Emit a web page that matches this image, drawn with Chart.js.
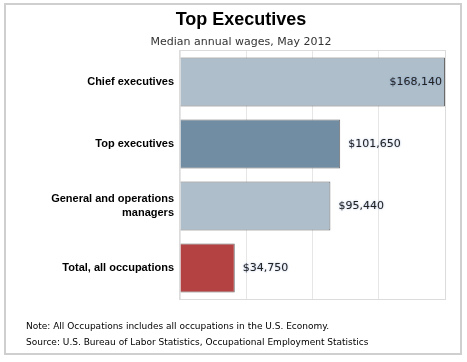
<!DOCTYPE html>
<html>
<head>
<meta charset="utf-8">
<script src="https://cdn.jsdelivr.net/npm/chart.js@4.4.0/dist/chart.umd.min.js"></script>
<style>
  html, body { margin: 0; padding: 0; background: #fff; }
  #wrap { position: relative; width: 467px; height: 362px; }
</style>
</head>
<body>
<div id="wrap"><canvas id="wages" width="467" height="362"></canvas></div>
<script>
// chart data
const categories = ['Chief executives', 'Top executives', ['General and operations', 'managers'], 'Total, all occupations'];
const wages = [168140, 101650, 95440, 34750];
const barColors = ['#aebfcb', '#718da3', '#aebfcb', '#b54242'];
const titleText = 'Top Executives';
const subtitleText = 'Median annual wages, May 2012';
const footnotes = [
    'Note: All Occupations includes all occupations in the U.S. Economy.',
    'Source: U.S. Bureau of Labor Statistics, Occupational Employment Statistics'
];

const fmtMoney = v => '$' + v.toLocaleString('en-US');

// frame, titles, footnotes and plot border
const decorPlugin = {
    id: 'decor',
    beforeDraw(chart) {
        const ctx = chart.ctx;
        ctx.save();
        ctx.strokeStyle = '#cfcfcf';
        ctx.lineWidth = 2;
        ctx.strokeRect(5, 4, 456, 350);
        ctx.fillStyle = '#000';
        ctx.textAlign = 'center';
        ctx.textBaseline = 'middle';
        ctx.font = 'bold 18px "Liberation Sans", Arial, sans-serif';
        ctx.fillText(titleText, 241, 20);
        ctx.fillStyle = '#333';
        ctx.font = '11px "DejaVu Sans", Verdana, sans-serif';
        ctx.fillText(subtitleText, 241, 42);
        ctx.textAlign = 'left';
        ctx.fillStyle = '#000';
        ctx.font = '9px "DejaVu Sans", Tahoma, sans-serif';
        footnotes.forEach((t, i) => ctx.fillText(t, 26, 327 + i * 16));
        ctx.restore();
    },
    afterDatasetsDraw(chart) {
        const ctx = chart.ctx;
        const a = chart.chartArea;
        ctx.save();
        ctx.strokeStyle = '#dcdcdc';
        ctx.lineWidth = 1;
        ctx.strokeRect(a.left - 0.5, a.top - 0.5, a.right - a.left + 1, a.bottom - a.top + 1);
        // value labels
        ctx.font = '11px "DejaVu Sans", Verdana, sans-serif';
        ctx.textBaseline = 'middle';
        ctx.fillStyle = '#222';
        ctx.shadowColor = 'rgba(110,140,200,0.7)';
        ctx.shadowBlur = 2;
        chart.getDatasetMeta(0).data.forEach((bar, i) => {
            const txt = fmtMoney(wages[i]);
            const w = ctx.measureText(txt).width;
            if (bar.x + 8 + w > a.right) {
                ctx.textAlign = 'right';
                ctx.fillText(txt, bar.x - 3, bar.y);
            } else {
                ctx.textAlign = 'left';
                ctx.fillText(txt, bar.x + 8, bar.y);
            }
        });
        ctx.restore();
    }
};

new Chart(document.getElementById('wages'), {
    type: 'bar',
    data: {
        labels: categories,
        datasets: [{
            data: wages,
            backgroundColor: barColors,
            borderColor: '#6a6a6a',
            borderWidth: 1,
            barPercentage: 0.88,
            categoryPercentage: 0.9
        }]
    },
    options: {
        indexAxis: 'y',
        responsive: false,
        animation: false,
        layout: { padding: { top: 51, bottom: 63, left: 8, right: 22 } },
        plugins: {
            legend: { display: false },
            tooltip: { enabled: false }
        },
        scales: {
            x: {
                min: 0,
                max: 168140,
                ticks: { display: false, count: 5 },
                grid: { color: '#e6e6e6', drawTicks: false },
                border: { display: false },
                afterFit: s => { s.height = 0; }
            },
            y: {
                grid: { display: false, drawTicks: false },
                border: { display: false },
                ticks: {
                    padding: 6,
                    color: '#000',
                    font: { family: '"Liberation Sans", Arial, sans-serif', size: 11, weight: 'bold' }
                },
                afterFit: s => { s.width = 172; }
            }
        }
    },
    plugins: [decorPlugin]
});
</script>
</body>
</html>
